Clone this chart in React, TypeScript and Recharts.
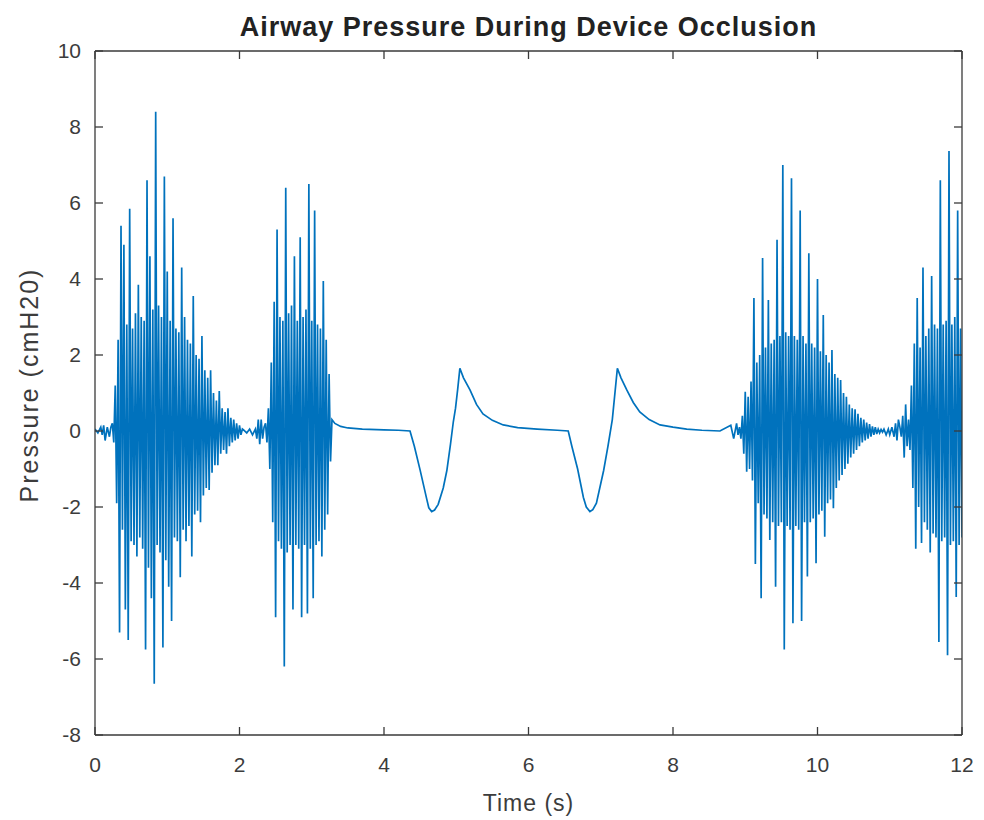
import { LineChart, Line, XAxis, YAxis, Label } from "recharts";

// time grid of the sampled bursts (s)
const sampleStep = 0.02;

const xTicks = [0, 2, 4, 6, 8, 10, 12];
const yTicks = [-8, -6, -4, -2, 0, 2, 4, 6, 8, 10];

// quiet baseline before the first burst
const preTimes = [0, 0.04, 0.08, 0.1, 0.12, 0.14, 0.17, 0.2, 0.22];
const preValues = [0.05, -0.05, 0.1, -0.1, 0.15, -0.25, 0.1, -0.15, 0.1];

const burst1Start = 0.24;
const burst1Values = [
  0.2, -0.3, 1.2, -1.9, 2.4, -5.3, 5.4, -2.6, 4.9, -4.7,
  2.8, -5.5, 5.85, -2.9, 2.7, -3.0, 3.1, -3.3, 3.85, -2.8,
  3.0, -3.1, 2.9, -5.75, 6.6, -3.6, 4.6, -4.4, 3.2, -6.65,
  8.4, -3.0, 3.3, -3.2, 3.0, -5.7, 6.7, -3.4, 4.2, -4.1,
  2.9, -5.0, 5.6, -2.8, 2.7, -2.9, 2.6, -3.85, 4.3, -2.6,
  3.0, -2.9, 2.4, -2.5, 2.3, -3.3, 3.55, -2.2, 2.0, -2.1,
  1.9, -2.4, 2.5, -1.7, 1.6, -1.5, 1.4, -1.55, 1.6, -1.1,
  1.0, -0.9, 0.8, -0.9, 1.05, -0.6, 0.6, -0.5, 0.5, -0.6,
  0.6, -0.4, 0.35, -0.3, 0.3, -0.25, 0.2, -0.2, 0.15, -0.1,
  0.05,
];

const gap1Times = [2.06, 2.1, 2.14, 2.18, 2.22, 2.24, 2.26, 2.28, 2.3, 2.32, 2.34];
const gap1Values = [0.02, -0.05, 0.05, -0.1, 0.05, -0.2, 0.3, -0.35, 0.3, -0.2, 0.1];

const burst2Start = 2.36;
const burst2Values = [
  0.2, -0.3, 0.6, -1.0, 1.8, -2.4, 3.4, -4.9, 5.3, -2.9,
  3.0, -3.1, 2.9, -6.2, 6.4, -3.2, 3.1, -3.0, 3.3, -4.7,
  4.6, -3.0, 2.9, -3.1, 5.1, -4.9, 3.0, -3.0, 3.2, -4.8,
  6.5, -3.1, 2.9, -4.4, 5.8, -3.0, 2.8, -2.9, 2.7, -3.3,
  3.95, -2.6, 2.4, -2.2, 1.5, -0.8,
];

// two occlusion manoeuvres between the bursts
const occTimes = [
  3.28, 3.32, 3.4, 3.5, 3.7, 4.0, 4.2, 4.36, 4.42, 4.5,
  4.59, 4.62, 4.66, 4.7, 4.75, 4.82, 4.87, 4.92, 4.96, 4.99,
  5.02, 5.05, 5.1, 5.19, 5.28, 5.37, 5.5, 5.65, 5.85, 6.12,
  6.4, 6.55, 6.6, 6.68, 6.76, 6.8, 6.85, 6.89, 6.94, 7.04,
  7.1, 7.16, 7.23, 7.28, 7.36, 7.45, 7.54, 7.67, 7.82, 8.0,
  8.19, 8.4, 8.65, 8.8, 8.84, 8.88, 8.9,
];
const occValues = [
  0.3, 0.2, 0.12, 0.08, 0.05, 0.03, 0.02, 0, -0.4, -1.03,
  -1.78, -2.02, -2.12, -2.08, -1.93, -1.5, -1.04, -0.35, 0.25, 0.6,
  1.1, 1.65, 1.4, 1.08, 0.7, 0.45, 0.28, 0.16, 0.09, 0.05,
  0.02, 0, -0.4, -1.0, -1.75, -2.0, -2.12, -2.07, -1.9, -1.04,
  -0.4, 0.3, 1.65, 1.4, 1.08, 0.75, 0.5, 0.3, 0.16, 0.1,
  0.05, 0.02, 0, 0.15, -0.2, 0.2, -0.1,
];

const burst3Start = 8.92;
const burst3Values = [
  0.1, -0.2, 0.4, -0.6, 1.03, -1.07, 0.9, -1.0, 1.3, -1.3,
  3.5, -3.5, 1.8, -1.9, 2.0, -4.4, 4.55, -2.2, 2.2, -2.3,
  3.45, -2.87, 2.3, -2.4, 2.4, -4.1, 5.03, -2.5, 2.5, -2.4,
  7.0, -5.75, 2.6, -2.5, 2.5, -2.6, 6.65, -5.06, 2.5, -2.5,
  2.4, -2.6, 5.8, -5.0, 2.5, -2.4, 2.3, -3.83, 4.68, -2.4,
  2.3, -2.3, 2.2, -3.48, 4.0, -2.2, 2.1, -2.1, 3.05, -2.78,
  2.0, -1.9, 1.8, -1.8, 2.13, -2.03, 1.5, -1.5, 1.4, -1.3,
  1.34, -1.16, 1.0, -1.0, 0.9, -0.86, 0.7, -0.7, 0.6, -0.6,
  0.57, -0.5, 0.45, -0.4, 0.35, -0.3, 0.3, -0.25, 0.22, -0.2,
  0.18, -0.15, 0.12, -0.1, 0.1, -0.08, 0.05, -0.05, 0.04, -0.03,
];

const gap3Times = [10.92, 10.95, 10.98, 11.0, 11.03, 11.06, 11.08, 11.1, 11.12];
const gap3Values = [0.05, -0.1, 0.05, -0.1, 0.1, -0.15, 0.2, -0.25, 0.3];

const burst4Start = 11.14;
const burst4Values = [
  0.1, -0.15, 0.4, -0.7, 0.7, -0.4, 0.3, -0.5, 1.2, -1.5,
  2.3, -3.1, 3.5, -2.0, 2.2, -2.95, 4.3, -2.4, 2.5, -2.6,
  2.7, -3.2, 4.08, -2.7, 2.8, -2.8, 2.7, -5.55, 6.6, -2.9,
  2.8, -2.8, 2.9, -5.9, 7.37, -3.0, 2.8, -2.9, 3.0, -4.37,
  5.8, -3.0, 2.7, -2.8,
];

const fromPairs = (times: number[], values: number[]) =>
  times.map((t, i) => ({ t, p: values[i] }));

const fromBurst = (start: number, values: number[]) =>
  values.map((p, i) => ({ t: +(start + i * sampleStep).toFixed(3), p }));

const data = [
  ...fromPairs(preTimes, preValues),
  ...fromBurst(burst1Start, burst1Values),
  ...fromPairs(gap1Times, gap1Values),
  ...fromBurst(burst2Start, burst2Values),
  ...fromPairs(occTimes, occValues),
  ...fromBurst(burst3Start, burst3Values),
  ...fromPairs(gap3Times, gap3Values),
  ...fromBurst(burst4Start, burst4Values),
];

// only used so the mirrored top/right axes get a series
const frameData = [
  { t: 0, p: 0 },
  { t: 12, p: 0 },
];

const FONT = "'Liberation Sans', Arial, Helvetica, sans-serif";
const AXIS = "#3a3a3a";
const TEXT = "#3c3c3c";
const tickFont = { fontSize: 21, fill: TEXT, fontFamily: FONT };
const blank = () => "";

export default function App() {
  return (
    <div style={{ position: "absolute", left: 0, top: 0, width: 984, height: 820, background: "#fff" }}>
      <div
        style={{
          position: "absolute",
          left: 95,
          width: 867,
          top: 14,
          textAlign: "center",
          fontFamily: FONT,
          fontWeight: "bold",
          fontSize: 27,
          lineHeight: "27px",
          letterSpacing: 1,
          color: "#222",
        }}
      >
        Airway Pressure During Device Occlusion
      </div>
      <LineChart
        width={984}
        height={820}
        data={data}
        margin={{ top: 50, right: 21, bottom: 40, left: 45 }}
      >
        <XAxis
          xAxisId="bottom"
          dataKey="t"
          type="number"
          domain={[0, 12]}
          ticks={xTicks}
          allowDataOverflow
          height={45}
          tickSize={-8}
          tickMargin={30}
          tick={tickFont}
          stroke={AXIS}
          strokeWidth={1.3}
        >
          <Label
            content={({ viewBox }: any) => (
              <text
                x={viewBox.x + viewBox.width / 2}
                y={viewBox.y + 76}
                textAnchor="middle"
                fontSize={23}
                letterSpacing={1}
                fontFamily={FONT}
                fill={TEXT}
              >
                Time (s)
              </text>
            )}
          />
        </XAxis>
        <XAxis
          xAxisId="top"
          orientation="top"
          dataKey="t"
          type="number"
          domain={[0, 12]}
          ticks={xTicks}
          height={1}
          tickSize={-8}
          tickFormatter={blank}
          stroke={AXIS}
          strokeWidth={1.3}
        />
        <YAxis
          yAxisId="left"
          type="number"
          domain={[-8, 10]}
          ticks={yTicks}
          allowDataOverflow
          width={50}
          tickSize={-8}
          tickMargin={22}
          tick={tickFont}
          stroke={AXIS}
          strokeWidth={1.3}
        >
          <Label
            content={({ viewBox }: any) => {
              const cx = viewBox.x - 16;
              const cy = viewBox.y + viewBox.height / 2 - 8;
              return (
                <text
                  x={cx}
                  y={cy}
                  transform={`rotate(-90, ${cx}, ${cy})`}
                  textAnchor="middle"
                  dominantBaseline="central"
                  fontSize={25}
                  letterSpacing={2}
                  fontFamily={FONT}
                  fill={TEXT}
                >
                  Pressure (cmH20)
                </text>
              );
            }}
          />
        </YAxis>
        <YAxis
          yAxisId="right"
          orientation="right"
          type="number"
          domain={[-8, 10]}
          ticks={yTicks}
          width={1}
          tickSize={-8}
          tickFormatter={blank}
          stroke={AXIS}
          strokeWidth={1.3}
        />
        <Line
          xAxisId="bottom"
          yAxisId="left"
          dataKey="p"
          type="linear"
          stroke="#0072BD"
          strokeWidth={1.7}
          dot={false}
          isAnimationActive={false}
        />
        <Line
          xAxisId="top"
          yAxisId="right"
          data={frameData}
          dataKey="p"
          stroke="none"
          dot={false}
          activeDot={false}
          isAnimationActive={false}
        />
      </LineChart>
    </div>
  );
}
